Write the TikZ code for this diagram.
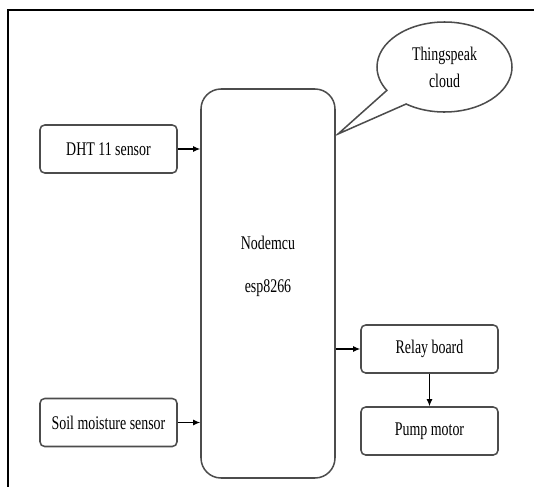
\documentclass[tikz,border=0pt]{standalone}
\usepackage{fontspec}
\setmainfont{Liberation Serif}[FakeStretch=0.72]
\usetikzlibrary{arrows.meta}
\usetikzlibrary{shapes.callouts}

\begin{document}
\begin{tikzpicture}[x=0.3mm, y=-0.3mm,
        font=\fontsize{16.5}{19}\selectfont,
        blockbox/.style={draw=black!70, line width=1.3pt, rounded corners=4pt, minimum width=4.11cm, minimum height=1.44cm, inner sep=0pt},
        flow/.style={-{Latex[length=6pt,width=5pt]}, line width=1pt}]

\useasboundingbox (0,0) rectangle (534,487);
% page frame
\draw[line width=1.1pt] (8,487) -- (8,10) -- (534,10);

% sensors
\node[blockbox] (dht) at (108.5,149) {DHT 11 sensor};
\node[blockbox] (soil) at (108.5,422.5) {Soil moisture sensor};

% controller
\node[draw=black!70, line width=1.3pt, rounded corners=0.6cm, minimum width=4.02cm, minimum height=11.67cm] (mcu) at (268,283.5) {};
\node[align=center] (mcutext) at (268,266) {Nodemcu\\[17.5pt]esp8266};

% outputs
\node[blockbox] (relay) at (429.5,349) {Relay board};
\node[blockbox] (pump) at (429.5,431) {Pump motor};

% cloud
\coordinate (cloudtip) at (338,134);
\node[ellipse callout, draw=black!70, line width=1.3pt, minimum width=4.05cm, minimum height=2.7cm, inner sep=0pt,
      callout absolute pointer=(cloudtip), callout pointer arc=24, align=center] (cloud) at (444.5,67) {Thingspeak\\[4pt]cloud};

\draw[flow] (dht.east) -- (dht.east -| mcu.west);
\draw[flow] (soil.east) -- (soil.east -| mcu.west);
\draw[flow] (mcu.east |- relay.west) -- (relay.west);
\draw[flow] (relay.south) -- (pump.north);

\end{tikzpicture}
\end{document}
